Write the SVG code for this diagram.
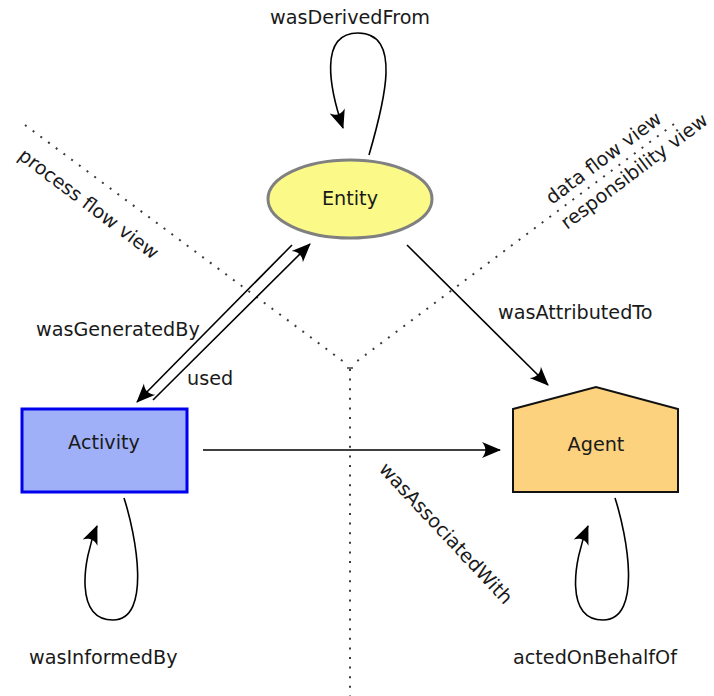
<svg xmlns="http://www.w3.org/2000/svg" width="714" height="696" viewBox="0 0 714 696">
<style>
text{font-family:"DejaVu Sans",Verdana,sans-serif;font-size:19.2px;fill:#1a1a1a}
.c{text-anchor:middle}
.dot{fill:none;stroke:#3a3a3a;stroke-width:2;stroke-dasharray:2,7.6}
.e{fill:none;stroke:#000;stroke-width:1.6;marker-end:url(#ah)}
</style>
<defs>
<marker id="ah" markerUnits="userSpaceOnUse" viewBox="-20 -9 22 18" refX="0" refY="0" markerWidth="22" markerHeight="18" orient="auto" overflow="visible">
<path d="M1,0 L-18,-8 C-13.5,-3 -13.5,3 -18,8 Z" fill="#000"/>
</marker>
</defs>
<g id="guides">
<line class="dot" x1="25" y1="125" x2="348" y2="365"/>
<line class="dot" x1="674" y1="124" x2="352" y2="365"/>
<line class="dot" x1="350" y1="369" x2="350" y2="696"/>
<line x1="347" y1="368" x2="353" y2="368" stroke="#3a3a3a" stroke-width="1.5"/>
<text transform="translate(17,158) rotate(37)">process flow view</text>
<text transform="translate(552,205) rotate(-37)">data flow view</text>
<text transform="translate(567,230) rotate(-37)">responsibility view</text>
</g>
<g id="connectors">
<path class="e" d="M369,155 C385,100 402,33 358,33 C318,33 330,90 343,128"/>
<line class="e" x1="292" y1="245" x2="137" y2="402"/>
<line class="e" x1="153" y1="400" x2="310" y2="244"/>
<line class="e" x1="407" y1="245" x2="548" y2="385"/>
<line class="e" x1="203" y1="450" x2="500" y2="450"/>
<path class="e" d="M124,498 C136,535 152,620 113,620 C75,620 82,562 97,526"/>
<path class="e" d="M615,498 C627,535 643,620 603,620 C565,620 573,562 588,526"/>
<text class="c" x="350" y="24">wasDerivedFrom</text>
<text x="36" y="336">wasGeneratedBy</text>
<text x="187" y="385">used</text>
<text x="498" y="319">wasAttributedTo</text>
<text transform="translate(378,470) rotate(47)">wasAssociatedWith</text>
<text x="29" y="664">wasInformedBy</text>
<text x="513" y="664">actedOnBehalfOf</text>
</g>
<g id="entity">
<ellipse cx="350" cy="199" rx="82" ry="39" fill="#fbfa88" stroke="#808080" stroke-width="3"/>
<text class="c" x="350" y="205">Entity</text>
</g>
<g id="activity">
<rect x="22" y="409" width="165" height="83" fill="#9fb0f8" stroke="#0000ee" stroke-width="3"/>
<text class="c" x="104" y="449">Activity</text>
</g>
<g id="agent">
<polygon points="513,409 596,387 678,409 678,492 513,492" fill="#fcd27f" stroke="#111" stroke-width="2"/>
<text class="c" x="596" y="451">Agent</text>
</g>
</svg>
